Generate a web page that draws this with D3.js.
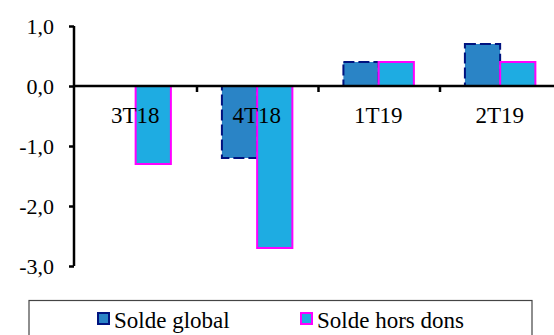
<!DOCTYPE html>
<html>
<head>
<meta charset="utf-8">
<script src="https://cdn.jsdelivr.net/npm/d3@7"></script>
<style>
  html, body { margin: 0; padding: 0; background: #fff; }
  svg { display: block; }
</style>
</head>
<body>
<svg id="chart" width="554" height="335"></svg>
<script>
// Quarterly balances (% of GDP)
const categories = ["3T18", "4T18", "1T19", "2T19"];
const seriesNames = ["Solde global", "Solde hors dons"];
const soldeGlobal = [0.0, -1.2, 0.4, 0.7];
const soldeHorsDons = [-1.3, -2.7, 0.4, 0.4];
const yTicks = [1.0, 0.0, -1.0, -2.0, -3.0];

const svg = d3.select("#chart");

const y = d3.scaleLinear().domain([-3, 1]).range([266, 26]);
const x0 = d3.scaleBand().domain(categories).range([75.5, 561.5]).padding(0);
const x1 = d3.scaleBand().domain(seriesNames)
  .range([x0.bandwidth() * 0.205, x0.bandwidth() * 0.785]).padding(0);

const styles = {
  "Solde global":    { fill: "#2a84c6", stroke: "#00137f", dash: "11,4" },
  "Solde hors dons": { fill: "#1eace2", stroke: "#ff00ff", dash: null }
};

const rows = categories.map((c, i) => ({
  cat: c,
  vals: [
    { s: seriesNames[0], v: soldeGlobal[i] },
    { s: seriesNames[1], v: soldeHorsDons[i] }
  ]
}));

// Bars
const groups = svg.append("g").selectAll("g").data(rows).join("g")
  .attr("transform", d => `translate(${x0(d.cat)},0)`);

groups.selectAll("rect").data(d => d.vals).join("rect")
  .attr("x", d => x1(d.s))
  .attr("width", x1.bandwidth())
  .attr("y", d => y(Math.max(0, d.v)))
  .attr("height", d => Math.abs(y(d.v) - y(0)))
  .attr("fill", d => styles[d.s].fill)
  .attr("stroke", d => styles[d.s].stroke)
  .attr("stroke-width", 2)
  .attr("stroke-dasharray", d => styles[d.s].dash);

// Y axis
const yAxis = svg.append("g")
  .attr("transform", "translate(74,0)")
  .call(d3.axisLeft(y).tickValues(yTicks).tickSize(5).tickPadding(15)
    .tickFormat(d => d3.format(".1f")(d).replace(".", ",").replace("−", "-")));
yAxis.attr("font-family", null).attr("font-size", null);
yAxis.select(".domain").attr("stroke", "#000").attr("stroke-width", 2.5)
  .attr("d", `M0,${y(1)}V${y(-3)}`);
yAxis.selectAll(".tick line").attr("stroke", "#000").attr("stroke-width", 2.5);
yAxis.selectAll(".tick text")
  .attr("font-family", d => "Liberation Serif")
  .attr("font-size", 22)
  .attr("fill", "#000");

// Horizontal zero line with category separators
const zeroY = y(0);
svg.append("line")
  .attr("x1", 74).attr("x2", 554)
  .attr("y1", zeroY).attr("y2", zeroY)
  .attr("stroke", "#000").attr("stroke-width", 2.5);
svg.append("g").selectAll("line").data(categories.slice(1)).join("line")
  .attr("x1", d => x0(d)).attr("x2", d => x0(d))
  .attr("y1", zeroY).attr("y2", zeroY + 6)
  .attr("stroke", "#000").attr("stroke-width", 2.5);

// Category labels
svg.append("g").selectAll("text").data(categories).join("text")
  .attr("x", d => x0(d) + x0.bandwidth() / 2 - 1)
  .attr("y", 123)
  .attr("text-anchor", "middle")
  .attr("font-family", d => "Liberation Serif")
  .attr("font-size", 23)
  .attr("fill", "#000")
  .text(d => d);

// Legend
svg.append("rect")
  .attr("x", 29).attr("y", 300.5)
  .attr("width", 503).attr("height", 50)
  .attr("fill", "#fff").attr("stroke", "#444").attr("stroke-width", 1.2);

const legendX = [98, 301];
const legend = svg.append("g").selectAll("g").data(seriesNames).join("g")
  .attr("transform", (d, i) => `translate(${legendX[i]},313)`);
legend.append("rect")
  .attr("x", 0).attr("y", 0).attr("width", 11).attr("height", 11)
  .attr("fill", d => styles[d].fill)
  .attr("stroke", d => styles[d].stroke)
  .attr("stroke-width", 2);
legend.append("text")
  .attr("x", 16).attr("y", 15)
  .attr("font-family", d => "Liberation Serif")
  .attr("font-size", 23)
  .attr("fill", "#000")
  .text(d => d);
</script>
</body>
</html>
